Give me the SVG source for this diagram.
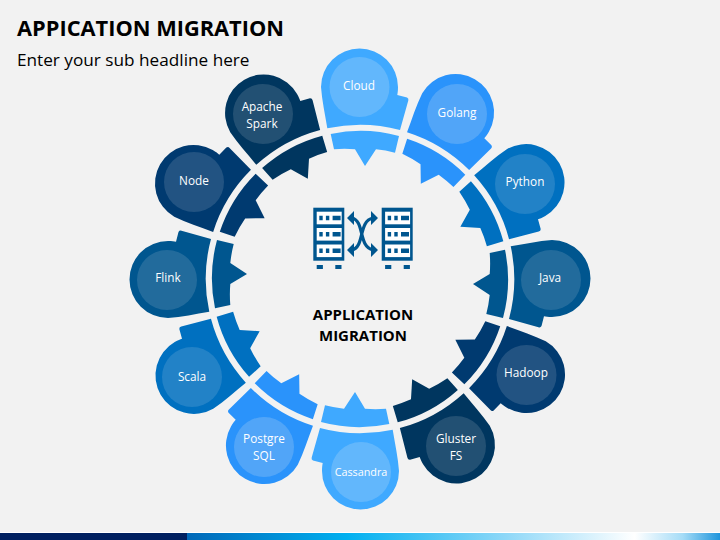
<svg xmlns="http://www.w3.org/2000/svg" width="720" height="540" viewBox="0 0 720 540">
<style>
.t{font-family:"Open Sans","Liberation Sans",sans-serif;fill:#fff;font-size:11.8px;text-anchor:middle}
.h{font-family:"Open Sans","Liberation Sans",sans-serif;fill:#000;text-anchor:middle}
.c{fill:#f2f2f2;fill-opacity:.14}
.l{fill-opacity:.2}
.w{fill:#fff}
.ic{fill:#00568f}
.ar{fill:none;stroke:#00568f;stroke-width:3.2}
</style>
<defs>
<linearGradient id="bar" x1="0" x2="1" y1="0" y2="0">
<stop offset="0" stop-color="#0068b8"/><stop offset=".3" stop-color="#00b0f0"/><stop offset=".6" stop-color="#8fd8f8"/><stop offset=".84" stop-color="#ffffff"/><stop offset=".93" stop-color="#a5dcf7"/><stop offset="1" stop-color="#1f95dc"/>
</linearGradient>
<g id="petal">
<path d="M-32.7-150.7C-35-165-38-178-39-192A38.5 38.5 0 1 1 38-192C38-188 37.6-186 37.3-184L47-181.5Q49-180.5 48.3-178.5L40-149A153 153 0 0 0-32.7-150.7Z"/>
<path d="M-29.3-145A147 147 0 0 1 39-143L35-126.3A130 130 0 0 0 16-129.7L5-113L-5-129.7A130 130 0 0 0-26-129.7Z"/>
</g>
<g id="srv">
<rect class="ic" x="0" y="0" width="31" height="53"/>
<rect class="w" x="3.4" y="4" width="25" height="12.6"/><rect class="w" x="3.4" y="20.3" width="25" height="12.6"/><rect class="w" x="3.4" y="36.8" width="25" height="12.6"/>
<path class="ic" d="M6 8h3.4v4.6H6zM12.6 8H16v4.6h-3.4zM19.3 8h8v4.6h-8zM6 24.3h3.4v4.6H6zM12.6 24.3H16v4.6h-3.4zM19.3 24.3h8v4.6h-8zM6 40.8h3.4v4.6H6zM12.6 40.8H16v4.6h-3.4zM19.3 40.8h8v4.6h-8z"/>
<rect class="ic" x="3.4" y="57.3" width="6.2" height="4"/><rect class="ic" x="22" y="57.3" width="6.2" height="4"/>
</g>
</defs>
<rect width="720" height="540" fill="#f2f2f2"/>
<text class="h" x="17" y="36" style="text-anchor:start;font-weight:700;font-size:21.8px">APPICATION MIGRATION</text>
<text class="h" x="17" y="66" style="text-anchor:start;font-size:17.2px">Enter your sub headline here</text>
<g id="connectors"/>
<g id="n-cloud" fill="#3fa9ff"><use href="#petal" transform="translate(360 279)"/><circle class="c l" cx="359.5" cy="87" r="30"/><text class="t" x="359" y="90">Cloud</text></g>
<g id="n-golang" fill="#2a93fb"><use href="#petal" transform="translate(360 279) rotate(30)"/><circle class="c l" cx="457" cy="114" r="30"/><text class="t" x="457" y="117">Golang</text></g>
<g id="n-python" fill="#0070c0"><use href="#petal" transform="translate(360 279) rotate(60)"/><circle class="c" cx="525" cy="184" r="30"/><text class="t" x="525" y="186">Python</text></g>
<g id="n-java" fill="#00568f"><use href="#petal" transform="translate(360 279) rotate(90)"/><circle class="c" cx="551" cy="280" r="30"/><text class="t" x="550" y="282">Java</text></g>
<g id="n-hadoop" fill="#003a70"><use href="#petal" transform="translate(360 279) rotate(120)"/><circle class="c" cx="526.5" cy="375" r="30"/><text class="t" x="526" y="377">Hadoop</text></g>
<g id="n-gluster" fill="#00365f"><use href="#petal" transform="translate(360 279) rotate(150)"/><circle class="c" cx="456" cy="446" r="30"/><text class="t" x="456" y="443">Gluster</text><text class="t" x="456" y="460">FS</text></g>
<g id="n-cassandra" fill="#3fa9ff"><use href="#petal" transform="translate(360 279) rotate(180)"/><circle class="c l" cx="361" cy="472" r="30"/><text class="t" x="361" y="476" style="font-size:10.8px">Cassandra</text></g>
<g id="n-postgre" fill="#2a93fb"><use href="#petal" transform="translate(360 279) rotate(210)"/><circle class="c l" cx="264" cy="447" r="30"/><text class="t" x="264" y="443">Postgre</text><text class="t" x="264" y="460">SQL</text></g>
<g id="n-scala" fill="#0070c0"><use href="#petal" transform="translate(360 279) rotate(240)"/><circle class="c" cx="192" cy="377" r="30"/><text class="t" x="192" y="381">Scala</text></g>
<g id="n-flink" fill="#00568f"><use href="#petal" transform="translate(360 279) rotate(270)"/><circle class="c" cx="167" cy="280" r="30"/><text class="t" x="168" y="282">Flink</text></g>
<g id="n-node" fill="#003a70"><use href="#petal" transform="translate(360 279) rotate(300)"/><circle class="c" cx="194" cy="182" r="30"/><text class="t" x="194" y="185">Node</text></g>
<g id="n-apache" fill="#00365f"><use href="#petal" transform="translate(360 279) rotate(330)"/><circle class="c" cx="263" cy="114" r="30"/><text class="t" x="262" y="111">Apache</text><text class="t" x="262" y="128">Spark</text></g>
<g id="center">
<use href="#srv" transform="translate(313.3 207.7)"/><use href="#srv" transform="translate(381.7 207.7)"/>
<path class="ar" d="M352 218C365 221 358 247 373 250M373 218C358 221 365 247 352 250"/>
<path class="ic" d="M347 218l7-7v14zM378 218l-7-7v14zM347 250l7-7v14zM378 250l-7-7v14z"/>
<text class="h" x="363" y="320" style="font-weight:700;font-size:15px">APPLICATION</text>
<text class="h" x="363" y="341" style="font-weight:700;font-size:15px">MIGRATION</text>
</g>
<rect y="532" width="720" height="1" fill="#fff"/>
<rect x="187" y="533" width="533" height="7" fill="url(#bar)"/>
<rect y="533" width="187" height="7" fill="#002060"/>
</svg>
